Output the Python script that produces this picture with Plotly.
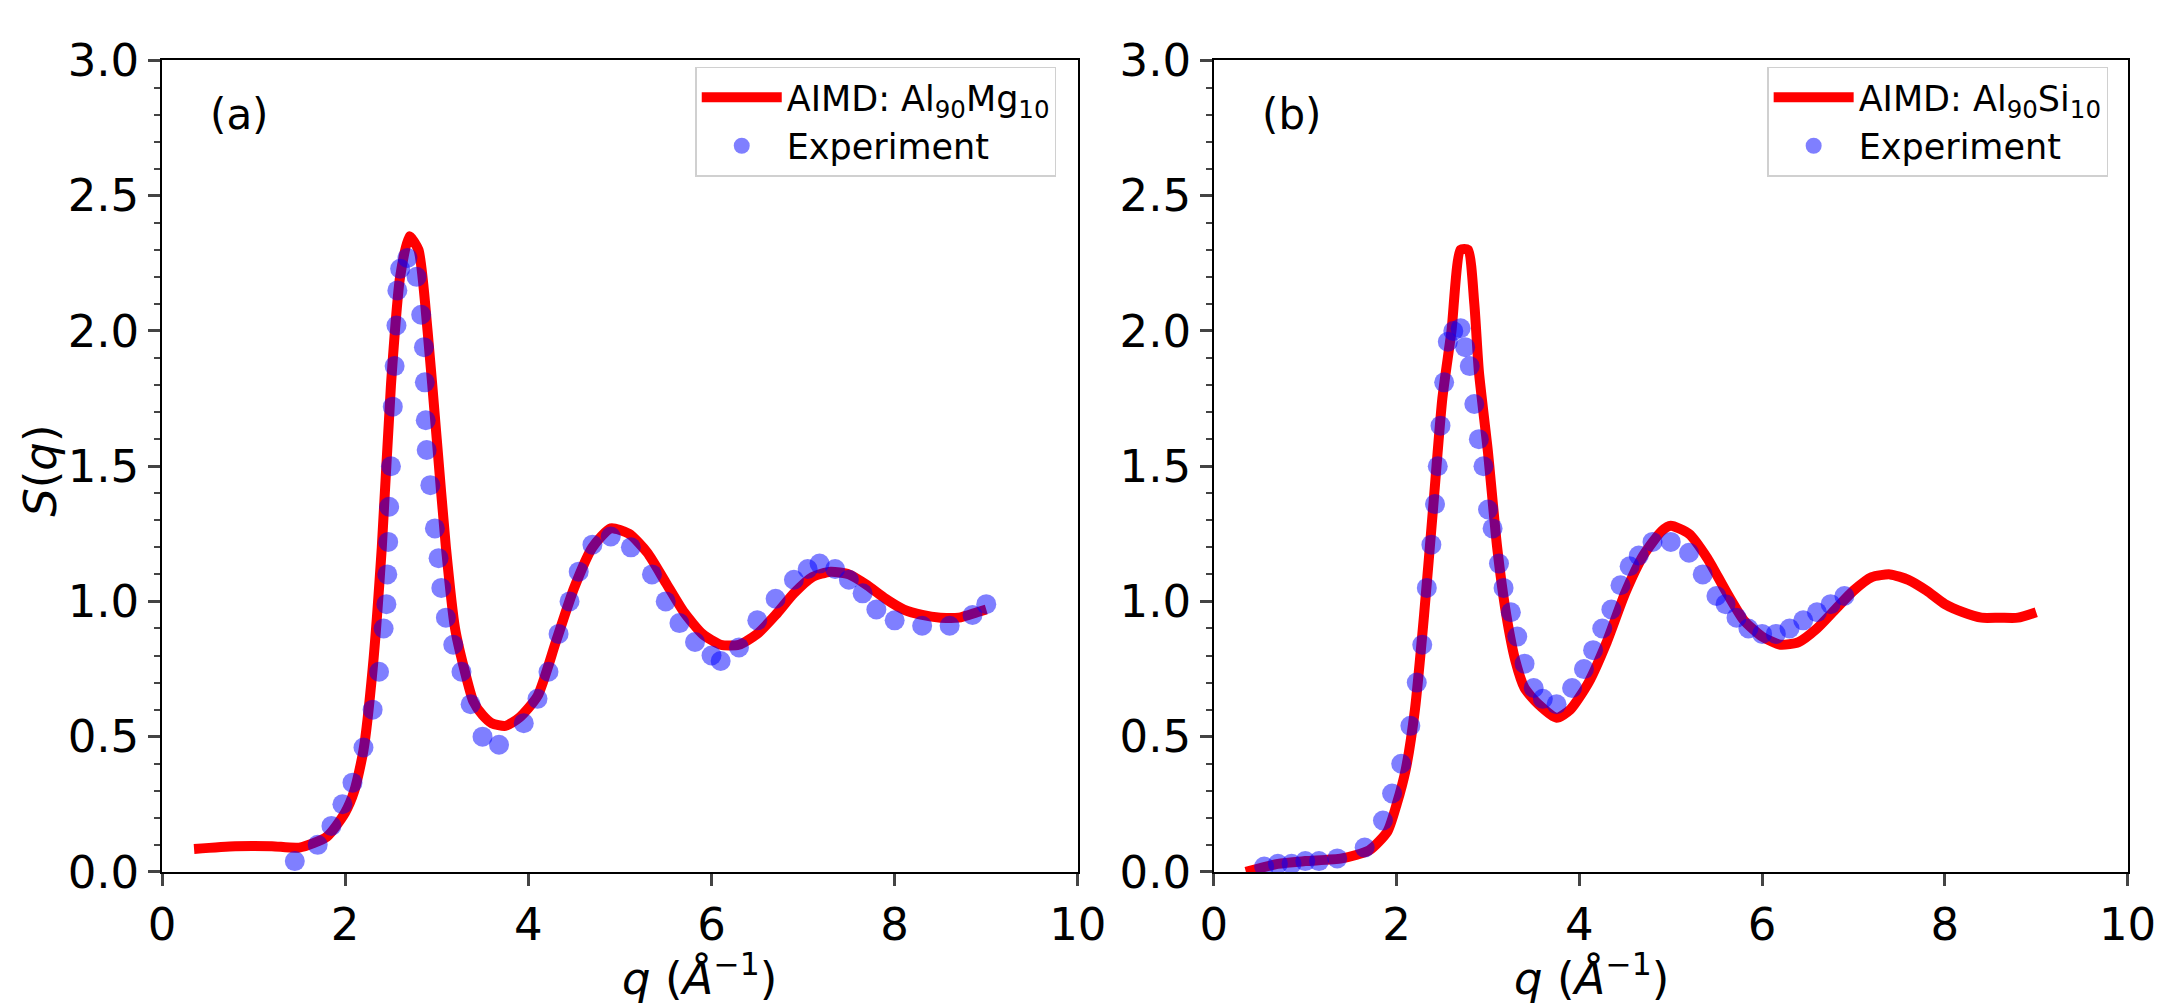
import plotly.graph_objects as go
from plotly.subplots import make_subplots

# AIMD Al90Mg10
q_mg_aimd = [0.35, 0.8, 1.2, 1.5, 1.8, 2.0, 2.1, 2.2, 2.3, 2.4, 2.5, 2.6, 2.7, 2.8, 2.9, 3.0, 3.1, 3.2, 3.3, 3.4,
             3.5, 3.6, 3.75, 3.9, 4.1, 4.3, 4.5, 4.7, 4.9, 5.1, 5.3, 5.5, 5.7, 5.9, 6.1, 6.3, 6.5, 6.7, 6.9, 7.1,
             7.3, 7.5, 7.7, 7.9, 8.1, 8.3, 8.5, 8.7, 8.9, 9.0]
s_mg_aimd = [0.085, 0.095, 0.095, 0.09, 0.13, 0.22, 0.3, 0.45, 0.75, 1.2, 1.8, 2.2, 2.35, 2.3, 2.0, 1.6, 1.2, 0.9, 0.75, 0.63,
             0.58, 0.55, 0.54, 0.57, 0.65, 0.85, 1.05, 1.2, 1.27, 1.25, 1.18, 1.07, 0.96, 0.88, 0.84, 0.84, 0.88, 0.95, 1.03, 1.09,
             1.11, 1.1, 1.06, 1.01, 0.97, 0.95, 0.94, 0.94, 0.96, 0.97]

# Experiment Al90Mg10
q_mg_exp = [1.45, 1.7, 1.85, 1.97, 2.08, 2.2, 2.3, 2.37, 2.42, 2.45, 2.46, 2.47, 2.48, 2.5, 2.52, 2.54, 2.56, 2.57, 2.6, 2.68,
            2.78, 2.83, 2.86, 2.87, 2.88, 2.89, 2.93, 2.98, 3.02, 3.05, 3.1, 3.18, 3.27, 3.37, 3.5, 3.68, 3.95, 4.1, 4.22, 4.33,
            4.45, 4.55, 4.7, 4.9, 5.12, 5.35, 5.5, 5.65, 5.82, 6.0, 6.1, 6.3, 6.5, 6.7, 6.9, 7.05, 7.18, 7.35, 7.5, 7.65,
            7.8, 8.0, 8.3, 8.6, 8.85, 9.0]
s_mg_exp = [0.04, 0.1, 0.17, 0.25, 0.33, 0.46, 0.6, 0.74, 0.9, 0.99, 1.1, 1.22, 1.35, 1.5, 1.72, 1.87, 2.02, 2.15, 2.23, 2.27,
            2.2, 2.06, 1.94, 1.81, 1.67, 1.56, 1.43, 1.27, 1.16, 1.05, 0.94, 0.84, 0.74, 0.62, 0.5, 0.47, 0.55, 0.64, 0.74, 0.88,
            1.0, 1.11, 1.21, 1.24, 1.2, 1.1, 1.0, 0.92, 0.85, 0.8, 0.78, 0.83, 0.93, 1.01, 1.08, 1.12, 1.14, 1.12, 1.08, 1.03,
            0.97, 0.93, 0.91, 0.91, 0.95, 0.99]

# AIMD Al90Si10
q_si_aimd = [0.35, 0.7, 1.0, 1.4, 1.7, 1.9, 2.0, 2.1, 2.2, 2.3, 2.4, 2.5, 2.6, 2.7, 2.78, 2.85, 2.9, 3.0, 3.1, 3.2,
             3.3, 3.4, 3.55, 3.75, 3.9, 4.1, 4.3, 4.5, 4.7, 4.9, 5.0, 5.2, 5.4, 5.6, 5.8, 6.0, 6.2, 6.4, 6.6, 6.8,
             7.0, 7.2, 7.4, 7.6, 7.8, 8.0, 8.2, 8.4, 8.6, 8.8, 9.0]
s_si_aimd = [0.0, 0.03, 0.04, 0.05, 0.08, 0.15, 0.25, 0.38, 0.6, 0.95, 1.35, 1.75, 2.0, 2.3, 2.3, 2.1, 1.85, 1.55, 1.2, 0.95,
             0.78, 0.68, 0.62, 0.57, 0.6, 0.7, 0.85, 1.03, 1.17, 1.26, 1.28, 1.25, 1.16, 1.04, 0.93, 0.87, 0.84, 0.85, 0.9, 0.97,
             1.04, 1.09, 1.1, 1.08, 1.04, 0.99, 0.96, 0.94, 0.94, 0.94, 0.96]

# Experiment Al90Si10
q_si_exp = [0.55, 0.7, 0.85, 1.0, 1.15, 1.35, 1.65, 1.85, 1.95, 2.05, 2.15, 2.22, 2.28, 2.33, 2.38, 2.42, 2.45, 2.48, 2.52, 2.56,
            2.62, 2.7, 2.75, 2.8, 2.85, 2.9, 2.95, 3.0, 3.05, 3.12, 3.17, 3.25, 3.32, 3.4, 3.5, 3.6, 3.75, 3.92, 4.05, 4.15,
            4.25, 4.35, 4.45, 4.55, 4.65, 4.8, 5.0, 5.2, 5.35, 5.5, 5.6, 5.72, 5.85, 6.0, 6.15, 6.3, 6.45, 6.6, 6.75, 6.9]
s_si_exp = [0.02, 0.03, 0.03, 0.04, 0.04, 0.05, 0.09, 0.19, 0.29, 0.4, 0.54, 0.7, 0.84, 1.05, 1.21, 1.36, 1.5, 1.65, 1.81, 1.96,
            2.0, 2.01, 1.94, 1.87, 1.73, 1.6, 1.5, 1.34, 1.27, 1.14, 1.05, 0.96, 0.87, 0.77, 0.68, 0.64, 0.62, 0.68, 0.75, 0.82,
            0.9, 0.97, 1.06, 1.13, 1.17, 1.22, 1.22, 1.18, 1.1, 1.02, 0.99, 0.94, 0.9, 0.88, 0.88, 0.9, 0.93, 0.96, 0.99, 1.02]

fig = make_subplots(rows=1, cols=2)

line_style = dict(color="red", width=10, shape="spline", smoothing=0.6)
marker_style = dict(color="blue", size=20, opacity=0.5)

fig.add_trace(go.Scatter(x=q_mg_aimd, y=s_mg_aimd, mode="lines", line=line_style,
                         name="AIMD: Al<sub>90</sub>Mg<sub>10</sub>", legend="legend"), 1, 1)
fig.add_trace(go.Scatter(x=q_mg_exp, y=s_mg_exp, mode="markers", marker=marker_style,
                         name="Experiment", legend="legend"), 1, 1)
fig.add_trace(go.Scatter(x=q_si_aimd, y=s_si_aimd, mode="lines", line=line_style,
                         name="AIMD: Al<sub>90</sub>Si<sub>10</sub>", legend="legend2"), 1, 2)
fig.add_trace(go.Scatter(x=q_si_exp, y=s_si_exp, mode="markers", marker=marker_style,
                         name="Experiment", legend="legend2"), 1, 2)

font = dict(family="DejaVu Sans", size=45, color="black")
axis_common = dict(showgrid=False, zeroline=False, showline=True, linecolor="black", linewidth=1.5,
                   mirror=True, ticks="outside", ticklen=12, tickwidth=2.5, tickfont=font, automargin=False)

for c in (1, 2):
    fig.update_xaxes(range=[0, 10], dtick=2, row=1, col=c, **axis_common)
    fig.update_yaxes(range=[0, 3], dtick=0.5, tickformat=".1f",
                     minor=dict(ticks="outside", dtick=0.1, ticklen=6, tickwidth=2),
                     row=1, col=c, **axis_common)

dom1 = [0.075, 0.499]
dom2 = [0.562, 0.985]
fig.update_xaxes(domain=dom1, row=1, col=1)
fig.update_xaxes(domain=dom2, row=1, col=2)
fig.update_yaxes(domain=[0.135, 0.94])

# axis titles as paper annotations
xtitle = "<i>q</i> (<i>Å</i><sup>−1</sup>)"
for dom in (dom1, dom2):
    fig.add_annotation(text=xtitle, x=(dom[0] + dom[1]) / 2, y=0.032, xref="paper", yref="paper",
                       yanchor="middle", showarrow=False, font=font)
fig.add_annotation(text="<i>S</i>(<i>q</i>)", x=0.019, y=0.533, xref="paper", yref="paper",
                   xanchor="center", textangle=-90, showarrow=False, font=font)

legend_common = dict(font=dict(family="DejaVu Sans", size=35, color="black"), bgcolor="white",
                     bordercolor="#d0d0d0", borderwidth=1.5, xanchor="right", yanchor="top", y=0.934,
                     itemwidth=80)
fig.update_layout(legend=dict(x=0.489, **legend_common), legend2=dict(x=0.976, **legend_common))

fig.add_annotation(text="(a)", x=0.5, y=2.8, xref="x", yref="y", xanchor="left", showarrow=False,
                   font=dict(family="DejaVu Sans", size=42, color="black"))
fig.add_annotation(text="(b)", x=0.5, y=2.8, xref="x2", yref="y2", xanchor="left", showarrow=False,
                   font=dict(family="DejaVu Sans", size=42, color="black"))

# no fixed size: let the figure fill the browser window
fig.update_layout(autosize=True, plot_bgcolor="white", paper_bgcolor="white",
                  margin=dict(l=0, r=0, t=0, b=0), showlegend=True)

fig.write_html("out.html", default_width="100%", default_height="100vh",
               config={"displayModeBar": False},
               post_script="document.body.style.margin='0';document.body.style.overflow='hidden';"
                           "window.dispatchEvent(new Event('resize'));")
